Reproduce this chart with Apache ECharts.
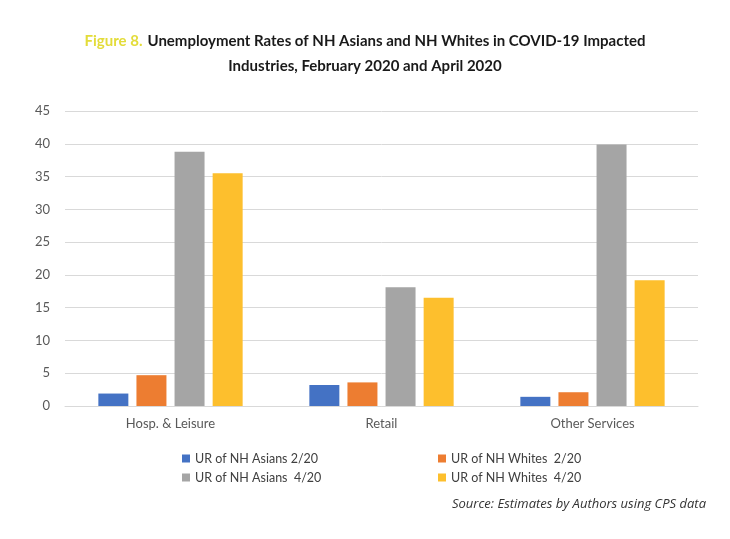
<!DOCTYPE html>
<html>
<head>
<meta charset="utf-8">
<script src="https://cdn.jsdelivr.net/npm/echarts@6/dist/echarts.min.js"></script>
<style>html,body{margin:0;padding:0;background:#fff}#c{width:730px;height:539px}</style>
</head>
<body>
<div id="c"></div>
<script>
const categories = ['Hosp. & Leisure', 'Retail', 'Other Services'];
const seriesNames = ['UR of NH Asians 2/20', 'UR of NH Whites  2/20', 'UR of NH Asians  4/20', 'UR of NH Whites  4/20'];
const asians220 = [1.9, 3.2, 1.4];
const whites220 = [4.7, 3.6, 2.1];
const asians420 = [38.8, 18.1, 39.9];
const whites420 = [35.5, 16.5, 19.2];
const yTicks = [0, 5, 10, 15, 20, 25, 30, 35, 40, 45];
const colors = ['#4472C4', '#ED7D31', '#A5A5A5', '#FDBF2D'];
const values = [asians220, whites220, asians420, whites420];

const chart = echarts.init(document.getElementById('c'));
const legendPos = [[182, 452], [438, 452], [182, 471], [438, 471]];
chart.setOption({
  animation: false,
  color: colors,
  title: {
    left: 'center',
    top: 24,
    text: '{y|Figure 8.} {b|Unemployment Rates of NH Asians and NH Whites in COVID-19 Impacted}\n{b|Industries, February 2020 and April 2020}',
    textStyle: {
      lineHeight: 25,
      rich: {
        y: { color: '#E3DC3A', fontSize: 15, fontFamily: 'Lato', fontWeight: 'bold', lineHeight: 25 },
        b: { color: '#1a1a1a', fontSize: 15, fontFamily: 'Lato', fontWeight: 'bold', lineHeight: 25 }
      }
    }
  },
  legend: seriesNames.map((n, i) => ({
    data: [n],
    left: legendPos[i][0],
    top: legendPos[i][1],
    padding: 0,
    itemWidth: 8,
    itemHeight: 8,
    itemGap: 4,
    icon: 'rect',
    selectedMode: false,
    textStyle: { color: '#404040', fontSize: 12.5, fontFamily: 'Lato' }
  })),
  graphic: [{
    type: 'text',
    right: 24,
    top: 498,
    style: { text: 'Source: Estimates by Authors using CPS data', font: 'italic 13px "Open Sans"', fill: '#333' }
  }],
  grid: { left: 65, right: 32, top: 111, bottom: 133 },
  xAxis: {
    type: 'category',
    data: categories,
    axisLine: { lineStyle: { color: '#D9D9D9', width: 1 } },
    axisTick: { show: false },
    axisLabel: { color: '#595959', fontSize: 13, fontFamily: 'Lato', margin: 11 }
  },
  yAxis: {
    type: 'value',
    min: yTicks[0],
    max: yTicks[yTicks.length - 1],
    interval: 5,
    axisLine: { show: false },
    axisTick: { show: false },
    axisLabel: { color: '#595959', fontSize: 13, fontFamily: 'Lato', margin: 15 },
    splitLine: { lineStyle: { color: '#D9D9D9', width: 1 } }
  },
  series: seriesNames.map((n, i) => ({
    name: n,
    type: 'bar',
    data: values[i],
    barWidth: 30,
    barGap: '27%',
    itemStyle: { color: colors[i] }
  }))
});
</script>
</body>
</html>
